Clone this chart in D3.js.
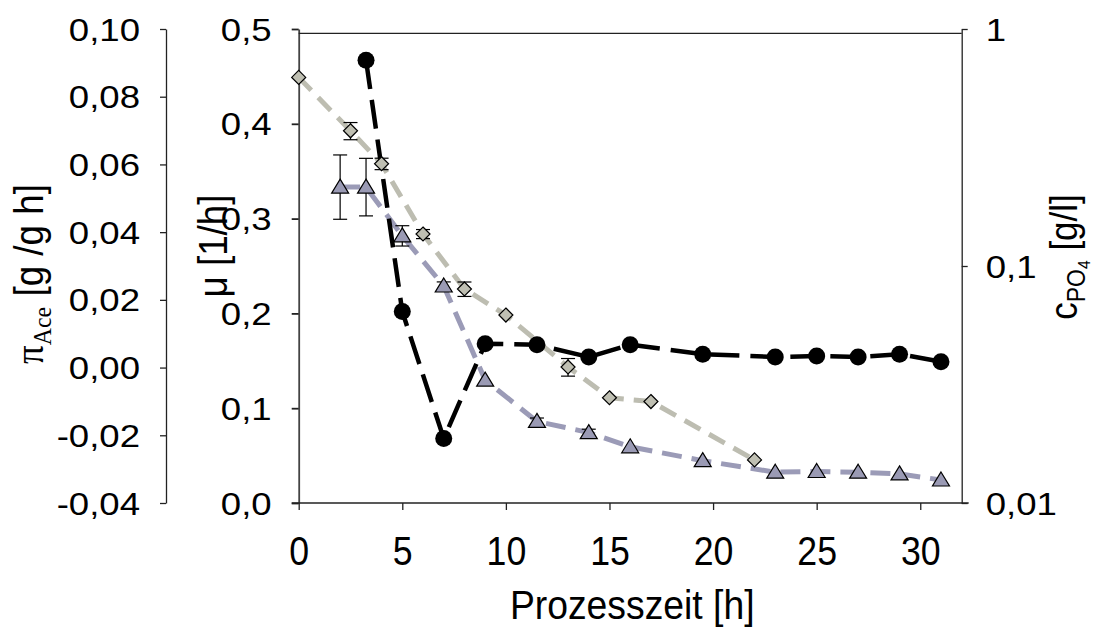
<!DOCTYPE html>
<html>
<head>
<meta charset="utf-8">
<script src="https://cdn.jsdelivr.net/npm/d3@7"></script>
<style>
  html, body { margin: 0; padding: 0; background: #fff; }
  svg { display: block; }
  text { font-family: "Liberation Sans", Arial, sans-serif; fill: #000; }
</style>
</head>
<body>
<svg id="chart" width="1097" height="628"></svg>
<script>
// Specific growth rate μ [1/h]
const timeMu = [3.25, 5, 7, 9, 11.5, 14, 16, 19.5, 23, 25, 27, 29, 31];
const mu = [0.467, 0.202, 0.068, 0.168, 0.167, 0.154, 0.167, 0.157, 0.154, 0.155, 0.154, 0.157, 0.149];

// Specific acetate production rate π_Ace [g/g h] with standard deviation
const timePi = [2, 3.25, 5, 7, 9, 11.5, 14, 16, 19.5, 23, 25, 27, 29, 31];
const piAce = [0.0533, 0.0533, 0.0389, 0.0241, -0.0037, -0.0159, -0.0192, -0.0234, -0.0275, -0.0309, -0.0307, -0.0309, -0.0314, -0.0332];
const piErr = [0.0095, 0.0085, 0.003, 0.0012, 0, 0.001, 0.001, 0, 0, 0, 0, 0, 0, 0];

// Phosphate concentration c_PO4 [g/l] with standard deviation
const timePo4 = [0, 2.5, 4, 6, 8, 10, 13, 15, 17, 22];
const po4 = [0.625, 0.372, 0.270, 0.1365, 0.080, 0.0621, 0.0375, 0.0278, 0.0268, 0.0152];
const po4Err = [0, 0.031, 0.015, 0.006, 0.0056, 0, 0.0032, 0, 0, 0];

// Axis ticks
const xTicks = [0, 5, 10, 15, 20, 25, 30];
const piTicks = [-0.04, -0.02, 0, 0.02, 0.04, 0.06, 0.08, 0.10];
const muTicks = [0, 0.1, 0.2, 0.3, 0.4, 0.5];
const po4Ticks = [0.01, 0.1, 1];
const po4TickLabels = ["0,01", "0,1", "1"];

const svg = d3.select("#chart");

const plotLeft = 298.7, plotRight = 961.7, plotTop = 29, plotBottom = 503;
const x = d3.scaleLinear().domain([0, 32]).range([plotLeft, plotRight]);
const yMu = d3.scaleLinear().domain([0, 0.5]).range([plotBottom, plotTop]);
const yPi = d3.scaleLinear().domain([-0.04, 0.10]).range([plotBottom, plotTop]);
const yPo4 = d3.scaleLog().domain([0.01, 1]).range([plotBottom, plotTop]);

const comma = f => v => d3.format(f)(v).replace(".", ",").replace("−", "-");
const axisColor = "#222";

// Replace the axis tick text with horizontally scaled labels
function restyleLabels(g, size, sx, anchor, dx, dy) {
  g.selectAll(".tick").each(function() {
    const tick = d3.select(this);
    const t = tick.select("text");
    const label = t.text();
    t.remove();
    tick.append("text")
      .attr("transform", `translate(${dx},${dy}) scale(${sx},1)`)
      .attr("text-anchor", anchor)
      .style("font-size", size + "px")
      .text(label);
  });
}

function styleAxis(g, width) {
  g.selectAll("path.domain").attr("stroke", axisColor).attr("stroke-width", width);
  g.selectAll(".tick line").attr("stroke", axisColor).attr("stroke-width", width);
}

// π_Ace axis (far left)
const gPi = svg.append("g").attr("transform", "translate(166,0)")
  .call(d3.axisLeft(yPi).tickValues(piTicks).tickSize(6).tickSizeOuter(0).tickFormat(comma(".2f")));
styleAxis(gPi, 1.3);
restyleLabels(gPi, 31, 1.18, "end", -26, 11);

// μ axis
const gMu = svg.append("g").attr("transform", `translate(${plotLeft},0)`)
  .call(d3.axisLeft(yMu).tickValues(muTicks).tickSize(7).tickSizeOuter(0).tickFormat(comma(".1f")));
styleAxis(gMu, 1.8);
gMu.select("path.domain").attr("stroke", "#444");
restyleLabels(gMu, 31, 1.18, "end", -27, 11);

// c_PO4 axis (right, logarithmic)
const gPo4 = svg.append("g").attr("transform", `translate(${plotRight},0)`)
  .call(d3.axisRight(yPo4).tickValues(po4Ticks).tickSize(6).tickSizeOuter(0)
    .tickFormat((d, i) => po4TickLabels[i]));
styleAxis(gPo4, 1.3);
restyleLabels(gPo4, 31, 1.18, "start", 24, 11);

// time axis
const gX = svg.append("g").attr("transform", `translate(0,${plotBottom})`)
  .call(d3.axisBottom(x).tickValues(xTicks).tickSize(7).tickSizeOuter(0).tickFormat(d3.format("d")));
styleAxis(gX, 1.3);
gX.select("path.domain").remove();
gX.append("line").attr("x1", plotLeft - 7).attr("x2", plotRight + 7).attr("y1", 0).attr("y2", 0)
  .attr("stroke", axisColor).attr("stroke-width", 1.5);
restyleLabels(gX, 41, 0.87, "middle", 0, 62);

// top frame
svg.append("line").attr("x1", plotLeft).attr("x2", plotRight).attr("y1", 33.3).attr("y2", 33.3)
  .attr("stroke", axisColor).attr("stroke-width", 1.3);

// axis titles
svg.append("text").attr("transform", `translate(${(plotLeft + plotRight) / 2 + 2},619) scale(0.91,1)`)
  .attr("text-anchor", "middle").style("font-size", "41px").text("Prozesszeit [h]");

const tPi = svg.append("text").attr("transform", "translate(43,274) rotate(-90) scale(0.92,1)")
  .attr("text-anchor", "middle").style("font-size", "40px");
tPi.append("tspan").style("font-family", "'Liberation Serif', serif").text("π");
tPi.append("tspan").attr("dy", 8).style("font-family", "'Liberation Serif', serif").style("font-size", "26px").text("Ace");
tPi.append("tspan").attr("dy", -8).text(" [g /g h]");

svg.append("text").attr("transform", "translate(227,246) rotate(-90) scale(0.92,1)")
  .attr("text-anchor", "middle").style("font-size", "40px").text("μ [1/h]");

const tPo4 = svg.append("text").attr("transform", "translate(1077,257) rotate(-90) scale(0.92,1)")
  .attr("text-anchor", "middle").style("font-size", "38px");
tPo4.append("tspan").text("c");
tPo4.append("tspan").attr("dy", 8).style("font-size", "25px").text("PO");
tPo4.append("tspan").attr("dy", 5).style("font-size", "17px").text("4");
tPo4.append("tspan").attr("dy", -13).text(" [g/l]");

// series lines
const linePo4 = d3.line().x((d, i) => x(timePo4[i])).y(d => yPo4(d));
const linePi = d3.line().x((d, i) => x(timePi[i])).y(d => yPi(d));
const lineMu = d3.line().x((d, i) => x(timeMu[i])).y(d => yMu(d));

svg.append("path").attr("d", linePo4(po4)).attr("fill", "none")
  .attr("stroke", "#bdbdb1").attr("stroke-width", 5).attr("stroke-dasharray", "18 10");
svg.append("path").attr("d", linePi(piAce)).attr("fill", "none")
  .attr("stroke", "#9b9bb7").attr("stroke-width", 5).attr("stroke-dasharray", "20 10");
svg.append("path").attr("d", lineMu(mu)).attr("fill", "none")
  .attr("stroke", "#000").attr("stroke-width", 4.5).attr("stroke-dasharray", "29 11");

// error bars
function errorBars(times, vals, errs, y) {
  const g = svg.append("g").attr("stroke", "#000").attr("stroke-width", 1.2);
  times.forEach((t, i) => {
    if (!errs[i]) return;
    const cx = x(t), y1 = y(vals[i] - errs[i]), y2 = y(vals[i] + errs[i]);
    g.append("line").attr("x1", cx).attr("x2", cx).attr("y1", y1).attr("y2", y2);
    g.append("line").attr("x1", cx - 7).attr("x2", cx + 7).attr("y1", y1).attr("y2", y1);
    g.append("line").attr("x1", cx - 7).attr("x2", cx + 7).attr("y1", y2).attr("y2", y2);
  });
}
errorBars(timePo4, po4, po4Err, yPo4);
errorBars(timePi, piAce, piErr, yPi);

// markers
svg.append("g").selectAll("path").data(po4).join("path")
  .attr("transform", (d, i) => `translate(${x(timePo4[i])},${yPo4(d)})`)
  .attr("d", "M0,-7L7,0L0,7L-7,0Z")
  .attr("fill", "#bfbfb2").attr("stroke", "#000").attr("stroke-width", 1.2);

svg.append("g").selectAll("path").data(piAce).join("path")
  .attr("transform", (d, i) => `translate(${x(timePi[i])},${yPi(d)})`)
  .attr("d", "M0,-8L8.5,6L-8.5,6Z")
  .attr("fill", "#9a9ab4").attr("stroke", "#000").attr("stroke-width", 1.2);

svg.append("g").selectAll("circle").data(mu).join("circle")
  .attr("cx", (d, i) => x(timeMu[i])).attr("cy", d => yMu(d)).attr("r", 8.5)
  .attr("fill", "#000");
</script>
</body>
</html>
